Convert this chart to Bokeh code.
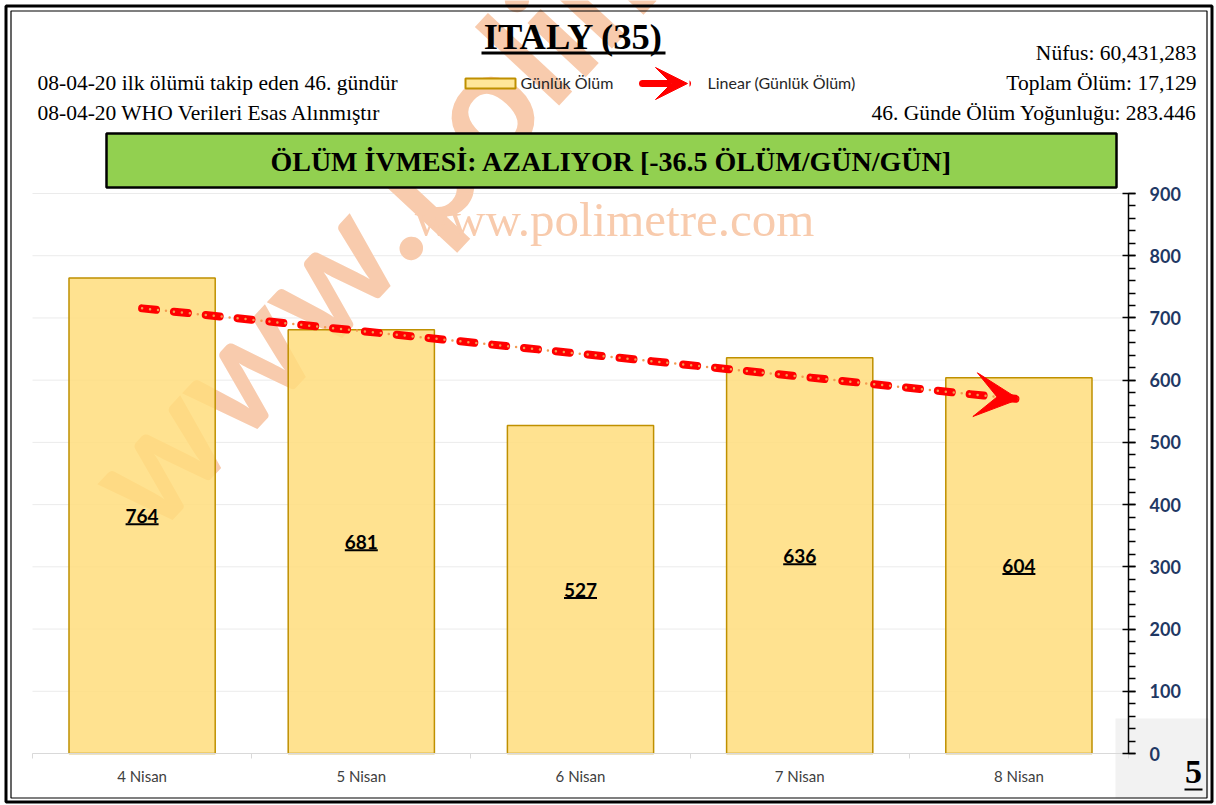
import numpy as np
from bokeh.plotting import figure
from bokeh.models import (Range1d, FixedTicker, Label, BoxAnnotation, Arrow,
                          VeeHead, ColumnDataSource, LinearAxis)
from bokeh.core.properties import value
from bokeh.embed import file_html
from bokeh.resources import INLINE

# ---------------- data ----------------
categories = ["4 Nisan", "5 Nisan", "6 Nisan", "7 Nisan", "8 Nisan"]
deaths = [764, 681, 527, 636, 604]
y_ticks = [0, 100, 200, 300, 400, 500, 600, 700, 800, 900]
y_minor_step = 20
title_text = "ITALY (35)"
info_left = ["08-04-20 ilk ölümü takip eden 46. gündür",
             "08-04-20 WHO Verileri Esas Alınmıştır"]
info_right = ["Nüfus: 60,431,283", "Toplam Ölüm: 17,129",
              "46. Günde Ölüm Yoğunluğu: 283.446"]
banner_text = "ÖLÜM İVMESİ: AZALIYOR [-36.5 ÖLÜM/GÜN/GÜN]"
legend_labels = ["Günlük Ölüm", "Linear (Günlük Ölüm)"]
page_number = "5"
watermark = "www.polimetre.com"

# ---------------- layout (page pixels) ----------------
W, H = 1216, 805
FL, FR, FT, FB = 32, 1128, 193, 753      # plot area in page pixels
N = len(categories)
Y_MAX = 900
PX_X = (FR - FL) / N
PX_Y = (FB - FT) / Y_MAX


def dx(X):
    return (X - FL) / PX_X


def dy(Y):
    return (FB - Y) / PX_Y


p = figure(width=W, height=H, output_backend="svg", toolbar_location=None,
           x_range=Range1d(dx(0), dx(W)), y_range=Range1d(dy(H), dy(0)),
           x_axis_location=None, y_axis_location=None, title=None,
           min_border=0)
p.outline_line_color = None
p.background_fill_color = "white"
p.border_fill_color = "white"
p.xgrid.visible = False
p.ygrid.visible = False

xs = [i + 0.5 for i in range(N)]
src = ColumnDataSource(dict(
    x=xs, top=deaths, mid=[d / 2 for d in deaths],
    ul=[d / 2 - 8.5 / PX_Y for d in deaths],
    label=[str(d) for d in deaths]))

# ---------------- background pieces ----------------
p.quad(left=[dx(1115)], right=[dx(1208)], top=[dy(718)], bottom=[dy(798)],
       fill_color="#F2F2F2", line_color=None)

# horizontal grid lines limited to plot area
p.segment(x0=[0] * len(y_ticks), x1=[N] * len(y_ticks), y0=y_ticks, y1=y_ticks,
          line_color="#EBEBEB", line_width=1)

# watermarks
p.text(x=[dx(110)], y=[dy(498)], text=[watermark], angle=47, angle_units="deg",
       text_font=value("Lato"), text_font_style="bold", text_font_size="155px",
       text_color="#F8CBAD", text_align="left", text_baseline="alphabetic")
p.text(x=[dx(614)], y=[dy(219)], text=[watermark],
       text_font=value("Liberation Serif"), text_font_size="49px",
       text_color="#F8CBAD", text_align="center", text_baseline="middle")

# ---------------- bars ----------------
p.vbar(x="x", top="top", width=0.667, source=src, fill_color="#FFDD7C",
       fill_alpha=0.85, line_color="#BF9000", line_width=1.5)

p.text(x="x", y="mid", text="label", source=src, text_font=value("Lato"),
       text_font_style="bold", text_font_size="19px", text_align="center",
       text_baseline="middle", text_color="black")
p.rect(x="x", y="ul", width=33, height=2, width_units="screen",
       height_units="screen", source=src, fill_color="black", line_color=None)

# ---------------- linear trend ----------------
slope, intercept = np.polyfit(np.arange(N), deaths, 1)
trend = [intercept + slope * i for i in range(N)]
p.line(xs, trend, line_color="#FF0000", line_width=8, line_dash="14 18",
       line_cap="round")
p.line(xs, trend, line_color="#F39C52", line_width=2.5, line_dash="0 8",
       line_cap="round")
p.add_layout(Arrow(end=VeeHead(size=44, fill_color="#FF0000", line_color="#FF0000",
                               line_width=1),
                   x_start=xs[-2], y_start=trend[-2], x_end=xs[-1], y_end=trend[-1],
                   line_alpha=0))

# ---------------- axes ----------------
yax = LinearAxis(fixed_location=N, bounds=(0, Y_MAX),
                 ticker=FixedTicker(ticks=y_ticks,
                                    minor_ticks=list(range(0, Y_MAX + 1, y_minor_step))))
yax.axis_line_color = "black"
yax.axis_line_width = 1.5
yax.major_tick_in = 6
yax.major_tick_out = 7
yax.minor_tick_in = 0
yax.minor_tick_out = 7
yax.major_tick_line_color = "black"
yax.minor_tick_line_color = "black"
yax.major_tick_line_width = 1.5
yax.minor_tick_line_width = 1.5
yax.major_label_standoff = 14
yax.major_label_text_font = "Lato"
yax.major_label_text_font_style = "bold"
yax.major_label_text_font_size = "18px"
yax.major_label_text_color = "#1F3864"
p.add_layout(yax, "right")

xax = LinearAxis(fixed_location=0, bounds=(0, N),
                 ticker=FixedTicker(ticks=xs, minor_ticks=list(range(N + 1))))
xax.major_label_overrides = {x: c for x, c in zip(xs, categories)}
xax.axis_line_color = "#D9D9D9"
xax.major_tick_in = 0
xax.major_tick_out = 0
xax.minor_tick_in = 0
xax.minor_tick_out = 5
xax.minor_tick_line_color = "#D9D9D9"
xax.major_label_standoff = 8
xax.major_label_text_font = "Lato"
xax.major_label_text_font_size = "15px"
xax.major_label_text_color = "#404040"
p.add_layout(xax, "below")


# ---------------- header texts ----------------
def lbl(text, X, Y, size, font="Liberation Serif", style="normal",
        align="left", color="black"):
    p.add_layout(Label(x=dx(X), y=dy(Y), text=text, text_font=font,
                       text_font_style=style, text_font_size=size,
                       text_align=align, text_baseline="middle",
                       text_color=color))


def box(l, r, t, b, fill=None, line="black", lw=1.0):
    p.add_layout(BoxAnnotation(left=dx(l), right=dx(r), top=dy(t), bottom=dy(b),
                               fill_color=fill if fill else "white",
                               fill_alpha=1 if fill else 0,
                               line_color=line if line else "black",
                               line_alpha=1 if line else 0,
                               line_width=lw))


lbl(title_text, 573, 36, "36.5px", style="bold", align="center")
box(481, 665, 51, 54, fill="black", line=None)

lbl(info_left[0], 37, 82, "21.5px")
lbl(info_left[1], 37, 112, "21.5px")
lbl(info_right[0], 1196, 52, "21.5px", align="right")
lbl(info_right[1], 1196, 82, "21.5px", align="right")
lbl(info_right[2], 1196, 112, "21.5px", align="right")

# legend
box(465, 515, 78, 88, fill="#FFE699", line="#BF9000", lw=2)
lbl(legend_labels[0], 520, 82, "16px", font="Lato", color="#262626")
p.add_layout(Arrow(end=VeeHead(size=32, fill_color="#FF0000", line_color="#FF0000",
                               line_width=1),
                   x_start=dx(642), y_start=dy(83), x_end=dx(687), y_end=dy(83),
                   line_color="#FF0000", line_width=7, line_cap="round"))
lbl(legend_labels[1], 707, 82, "16px", font="Lato", color="#262626")

# banner
box(106, 1116, 133, 187, fill="#92D050", line="black", lw=2.5)
lbl(banner_text, 611, 161, "28px", style="bold", align="center")

# page number
lbl(page_number, 1193, 771, "34px", style="bold", align="center")
box(1184, 1202, 788, 790, fill="black", line=None)

# outer frame (double line)
box(5.5, 1211.5, 5.5, 801.5, line="black", lw=3)
box(10.5, 1206.5, 10.5, 797.5, line="black", lw=1.2)

open("out.html", "w").write(file_html(p, INLINE))
